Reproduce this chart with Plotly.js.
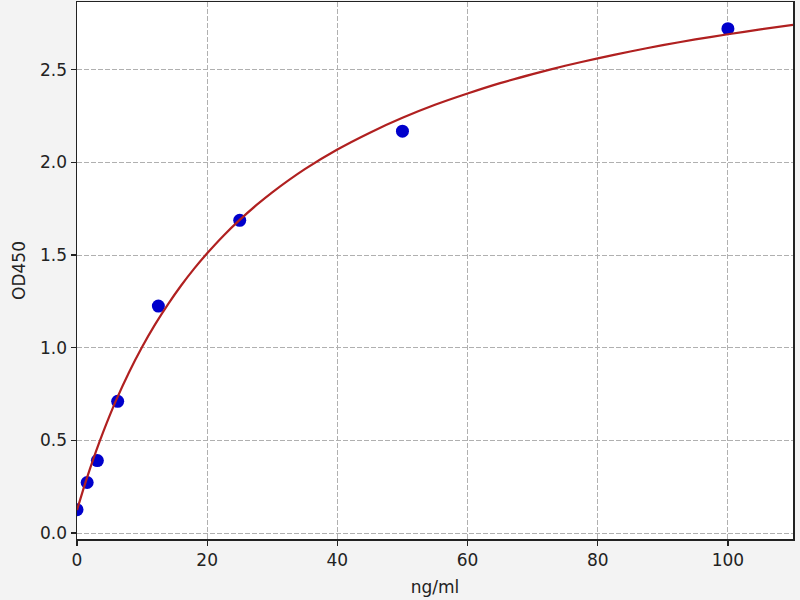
<!DOCTYPE html>
<html>
<head>
<meta charset="utf-8">
<script src="https://cdn.plot.ly/plotly-3.0.1.min.js"></script>
<style>html,body{margin:0;padding:0;background:#f3f3f3;}#chart{width:800px;height:600px;}</style>
</head>
<body>
<div id="chart"></div>
<script>
// Standard points (concentration ng/ml, OD450)
const concentrations = [0, 1.5625, 3.125, 6.25, 12.5, 25, 50, 100];
const odValues = [0.126, 0.273, 0.391, 0.711, 1.225, 1.688, 2.169, 2.722];

// Fitted curve
const curveX = [0, 1, 2, 3, 4, 5, 6, 8, 10, 12, 14, 16, 18, 20, 22.5, 25, 27.5, 30, 35, 40, 45, 50, 55, 60, 65, 70, 75, 80, 85, 90, 95, 100, 105, 110];
const curveY = [0.124, 0.240, 0.348, 0.449, 0.544, 0.632, 0.716, 0.868, 1.004, 1.126, 1.236, 1.336, 1.427, 1.510, 1.605, 1.690, 1.768, 1.839, 1.964, 2.070, 2.161, 2.241, 2.311, 2.372, 2.428, 2.477, 2.522, 2.562, 2.599, 2.633, 2.664, 2.692, 2.718, 2.743];

const xTicks = [0, 20, 40, 60, 80, 100];
const yTicks = [0.0, 0.5, 1.0, 1.5, 2.0, 2.5];
const yTickLabels = ['0.0', '0.5', '1.0', '1.5', '2.0', '2.5'];

const font = {family: 'DejaVu Sans, sans-serif', size: 17, color: '#222222'};

const traces = [
  {
    x: concentrations, y: odValues, type: 'scatter', mode: 'markers',
    marker: {color: '#0000cc', size: 13, line: {width: 0}},
    hoverinfo: 'x+y', showlegend: false
  },
  {
    x: curveX, y: curveY, type: 'scatter', mode: 'lines',
    line: {color: '#b02020', width: 2.2, shape: 'spline', smoothing: 0.6},
    hoverinfo: 'skip', showlegend: false
  }
];

const axisCommon = {
  showline: true, linecolor: '#222222', linewidth: 1.5, mirror: true,
  ticks: 'outside', ticklen: 5, tickwidth: 1.3, tickcolor: '#222222',
  showgrid: true, gridcolor: '#b0b0b0', griddash: '4.5px,2.5px', gridwidth: 1,
  zeroline: false, tickfont: font
};

const layout = {
  width: 800, height: 600,
  paper_bgcolor: '#f3f3f3', plot_bgcolor: '#ffffff',
  margin: {l: 77, r: 7, t: 2, b: 61},
  font: font,
  xaxis: Object.assign({}, axisCommon, {
    range: [0, 110], tickvals: xTicks, ticktext: xTicks.map(String),
    title: {text: 'ng/ml', font: font, standoff: 12}
  }),
  yaxis: Object.assign({}, axisCommon, {
    range: [-0.032, 2.866], tickvals: yTicks, ticktext: yTickLabels,
    title: {text: 'OD450', font: font, standoff: 10}
  })
};

Plotly.newPlot('chart', traces, layout, {displayModeBar: false, staticPlot: true});
</script>
</body>
</html>
